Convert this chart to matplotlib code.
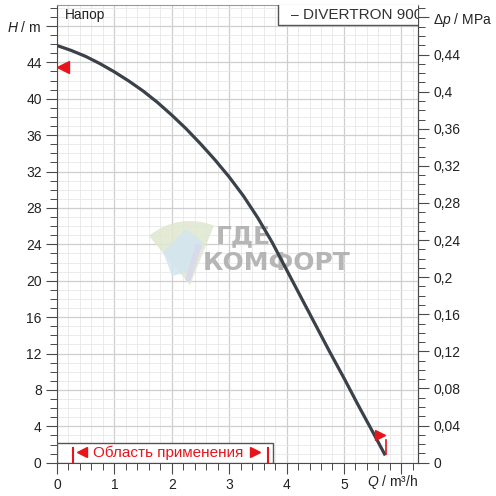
import matplotlib
matplotlib.use('Agg')
import matplotlib.pyplot as plt
from matplotlib.patches import Rectangle, Wedge, Polygon
from matplotlib.ticker import MultipleLocator, FixedLocator, FuncFormatter
import numpy as np

plt.rcParams['font.family'] = ['Liberation Sans', 'DejaVu Sans']
plt.rcParams['mathtext.fontset'] = 'custom'
plt.rcParams['mathtext.it'] = 'Liberation Sans:italic'
plt.rcParams['mathtext.rm'] = 'Liberation Sans'

# pump curve
flow = [0, 0.25, 0.5, 0.75, 1.0, 1.25, 1.5, 1.75, 2.0, 2.25, 2.5, 2.75,
        3.0, 3.25, 3.5, 3.75, 4.0, 4.25, 4.5, 4.75, 5.0, 5.25, 5.5, 5.72]
head = [45.85, 45.3, 44.65, 43.85, 42.95, 41.95, 40.85, 39.6, 38.2, 36.7, 35.05, 33.3,
        31.4, 29.3, 26.9, 24.2, 21.2, 18.2, 15.2, 12.2, 9.3, 6.3, 3.4, 0.8]

series_name = 'DIVERTRON 900'
x_ticks = [0, 1, 2, 3, 4, 5]
y_ticks = [0, 4, 8, 12, 16, 20, 24, 28, 32, 36, 40, 44]
p_ticks = [0, 0.04, 0.08, 0.12, 0.16, 0.2, 0.24, 0.28, 0.32, 0.36, 0.4, 0.44]
range_q = [0.285, 3.68]        # area of application
mark_left = (0.1, 43.5)
mark_right = (5.63, 3.0)

MPA_PER_M = 0.00981
RED = '#e8141b'
SPINE = '#4a4a4a'
W = 496.0


def px(x, y):
    # pixel from top-left -> figure fraction
    return (x / W, 1 - y / W)


def fmt_p(v, pos=None):
    if abs(v - 0.48) < 1e-6:
        return r'Δ$p$ / MPa'
    if abs(v) < 1e-9:
        return '0'
    return ('%.2f' % v).rstrip('0').rstrip('.').replace('.', ',')


def fmt_h(v, pos=None):
    if abs(v - 48) < 1e-6:
        return r'$H$ / m'
    return '%d' % round(v)


def main():
    fig = plt.figure(figsize=(4.96, 4.96), dpi=100)
    ax = fig.add_axes([57 / W, 33.3 / W, 361 / W, 457.7 / W])

    ax.set_xlim(0, 6.29)
    ax.set_ylim(0, 50.3)

    ax.xaxis.set_major_locator(FixedLocator(x_ticks + [6]))
    ax.xaxis.set_major_formatter(FuncFormatter(lambda v, p: '' if v > 5.5 else '%d' % v))
    ax.xaxis.set_minor_locator(MultipleLocator(0.2))
    ax.yaxis.set_major_locator(FixedLocator(y_ticks + [48]))
    ax.yaxis.set_major_formatter(FuncFormatter(fmt_h))
    ax.yaxis.set_minor_locator(MultipleLocator(1))

    ax.grid(which='major', color='#cfcfcf', lw=0.9)
    ax.grid(which='minor', color='#e8e8e8', lw=0.6)
    ax.set_axisbelow(True)

    ax.tick_params(which='major', length=8, width=0.8, color=SPINE, labelsize=10,
                   labelcolor='#222222', pad=3)
    ax.tick_params(which='minor', length=5, width=0.7, color=SPINE)
    for s in ['left', 'bottom', 'right']:
        ax.spines[s].set_color(SPINE)
    ax.spines['top'].set_color('#9a9a9a')

    sec = ax.secondary_yaxis('right', functions=(lambda h: h * MPA_PER_M,
                                                 lambda p: p / MPA_PER_M))
    sec.yaxis.set_major_locator(FixedLocator(p_ticks + [0.48]))
    sec.yaxis.set_major_formatter(FuncFormatter(fmt_p))
    sec.yaxis.set_minor_locator(MultipleLocator(0.01))
    sec.tick_params(which='major', length=8, width=0.8, color=SPINE, labelsize=10,
                    labelcolor='#222222', pad=3)
    sec.tick_params(which='minor', length=5, width=0.7, color=SPINE)
    sec.spines['right'].set_color(SPINE)

    # watermark logo + text
    ax.add_patch(Wedge(px(190, 285), 64 / W, 68, 130, facecolor='#dfe7cf',
                       edgecolor='none', alpha=0.85, zorder=1, transform=fig.transFigure))
    ax.add_patch(Polygon([px(163, 252), px(186, 229), px(203, 242), px(188, 272),
                          px(172, 276)], closed=True, facecolor='#d2e6ef',
                         edgecolor='none', alpha=0.85, zorder=1, transform=fig.transFigure))
    ax.add_patch(Polygon([px(196, 243), px(202, 246), px(190, 282), px(185, 280)],
                         closed=True, facecolor='#d9d9ec', edgecolor='none', alpha=0.9,
                         zorder=1, transform=fig.transFigure))
    ax.text(2.77, 24.9, 'ГДЕ', fontsize=18, fontweight='bold', color='#aaaaaa',
            alpha=0.85, va='center', ha='left', family='DejaVu Sans', zorder=1)
    ax.text(2.54, 21.9, 'КОМФОРТ', fontsize=18, fontweight='bold', color='#aaaaaa',
            alpha=0.85, va='center', ha='left', family='DejaVu Sans', zorder=1)

    ax.plot(flow, head, color='#3b4149', lw=2.3, solid_capstyle='butt',
            solid_joinstyle='round', zorder=4)

    # operating limits
    ax.plot(*mark_left, marker='<', color=RED, ms=8, mec=RED, zorder=5, clip_on=False)
    ax.plot(*mark_right, marker='>', color=RED, ms=7, mec=RED, zorder=5)
    ax.plot([5.73, 5.73], [1.0, 2.5], color=RED, lw=1.2, zorder=5)

    # area of application box
    ax.add_patch(Rectangle((0, 0), 3.76, 2.16, facecolor='white', edgecolor='#555555',
                           lw=1.0, zorder=3))
    for q in range_q:
        ax.plot([q, q], [0, 1.6], color=RED, lw=1.5, zorder=4)
    ax.plot(0.43, 1.15, marker='<', color=RED, ms=7, zorder=4)
    ax.plot(3.45, 1.15, marker='>', color=RED, ms=7, zorder=4)
    ax.text(1.93, 1.1, 'Область применения', color=RED, fontsize=11,
            ha='center', va='center', zorder=4)

    # legend box, clipped at the right edge
    ax.add_patch(Rectangle((3.85, 48.06), 3.0, 4.0, facecolor='white',
                           edgecolor='#555555', lw=1.0, zorder=3))
    ax.text(4.07, 49.15, '–', fontsize=10, color='#333333',
            va='center', ha='left', zorder=4)
    ax.text(4.29, 49.15, series_name, fontsize=11, color='#333333',
            va='center', ha='left', zorder=4, clip_on=True)

    ax.text(0.14, 49.2, 'Напор', fontsize=9.8, color='#222222', va='center', zorder=4)
    ax.text(5.85, -2.1, r'$Q$ / m³/h', fontsize=10, color='#222222',
            ha='center', va='center', clip_on=False)

    fig.savefig('out.png', dpi=100)
    plt.close()


if __name__ == "__main__":
    main()
